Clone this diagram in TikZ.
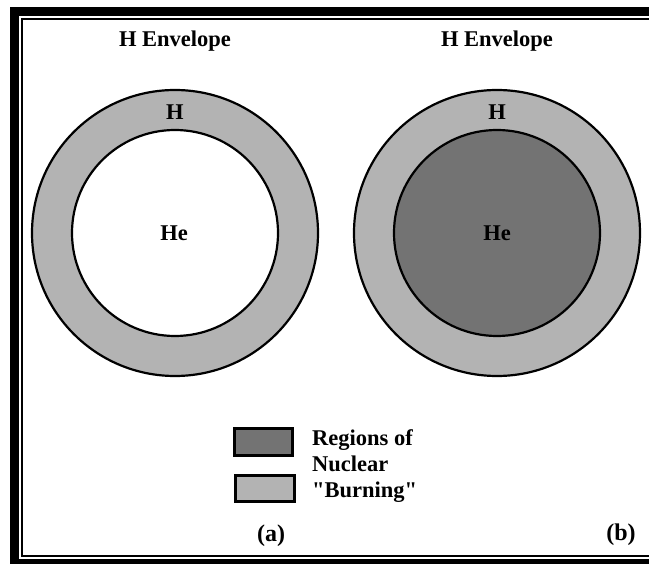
\documentclass[tikz,border=0pt]{standalone}
\usepackage{fontspec}
\setmainfont{Liberation Serif}
\definecolor{lightg}{RGB}{179,179,179}
\definecolor{darkg}{RGB}{115,115,115}
\begin{document}
\begin{tikzpicture}[x=1pt,y=-1pt,
  lbl/.style={font=\fontsize{22.5}{27}\selectfont\bfseries, inner sep=0pt, anchor=base},
  leg/.style={font=\fontsize{22.5}{27}\selectfont\bfseries, inner sep=0pt, anchor=base west},
  tag/.style={font=\fontsize{24}{28}\selectfont\bfseries, inner sep=0pt, anchor=base},
  ring/.style={draw=black, line width=2.2pt},
  legbox/.style={draw=black, line width=3pt}]
\useasboundingbox (0,0) rectangle (649,564);
\clip (0,0) rectangle (649,564);
\fill[white] (0,0) rectangle (649,564);
% frame (cropped at right and bottom)
\draw[line width=9pt] (14.5,12) rectangle (700,563.5);
\draw[line width=2pt] (22,19) rectangle (690,556);
% left star (a)
\draw[ring, fill=lightg] (175,233) circle[radius=143];
\draw[ring, fill=white] (175,233) circle[radius=103];
% right star (b)
\draw[ring, fill=lightg] (497,233) circle[radius=143];
\draw[ring, fill=darkg] (497,233) circle[radius=103];
% labels
\node[lbl] (envA) at (175,47) {H Envelope};
\node[lbl] (envB) at (497,47) {H Envelope};
\node[lbl] (hA) at (175,119.5) {H};
\node[lbl] (hB) at (497,120) {H};
\node[lbl] (heA) at (174,241) {He};
\node[lbl] (heB) at (497,240.5) {He};
% legend
\draw[legbox, fill=darkg] (234.5,428.5) rectangle (292.5,455.5);
\draw[legbox, fill=lightg] (235.5,475.5) rectangle (294.5,501.5);
\node[leg] (l1) at (312,446) {Regions of};
\node[leg] (l2) at (312,472) {Nuclear};
\node[leg] (l3) at (312,497) {\textquotedbl Burning\textquotedbl};
% panel tags
\node[tag] (ta) at (271,541) {(a)};
\node[tag] (tb) at (621,540) {(b)};
\end{tikzpicture}
\end{document}
